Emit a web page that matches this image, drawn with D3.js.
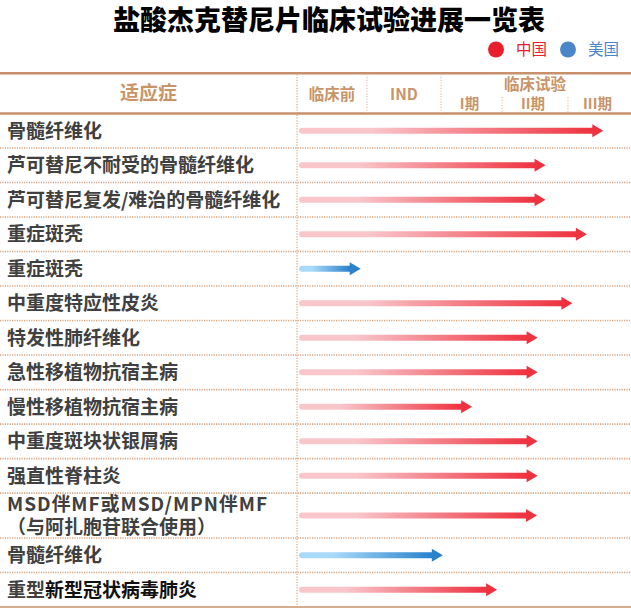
<!DOCTYPE html>
<html><head><meta charset="utf-8">
<script src="https://cdn.jsdelivr.net/npm/d3@7"></script>
<style>
html,body{margin:0;padding:0;background:#fff;}
svg{display:block;font-family:"Noto Sans CJK SC","Noto Sans",sans-serif;}
</style></head>
<body>
<svg id="chart" width="631" height="613"></svg>
<script>
// ---- data ----
const title = "盐酸杰克替尼片临床试验进展一览表";
const legendRegions = ["中国", "美国"];
const indications = [
  "骨髓纤维化",
  "芦可替尼不耐受的骨髓纤维化",
  "芦可替尼复发/难治的骨髓纤维化",
  "重症斑秃",
  "重症斑秃",
  "中重度特应性皮炎",
  "特发性肺纤维化",
  "急性移植物抗宿主病",
  "慢性移植物抗宿主病",
  "中重度斑块状银屑病",
  "强直性脊柱炎",
  "MSD伴MF或MSD/MPN伴MF\n（与阿扎胞苷联合使用）",
  "骨髓纤维化",
  "重型新型冠状病毒肺炎"
];
const regionOfRow = ["中国","中国","中国","中国","美国","中国","中国","中国","中国","中国","中国","中国","美国","中国"];
// progress in phase units: 0 = start, 1 = end of 临床前, 2 = end of IND, 3 = end of I期, 4 = end of II期, 5 = end of III期
const progress = [4.56, 3.66, 3.66, 4.30, 0.91, 4.07, 3.54, 3.54, 2.51, 3.54, 3.54, 3.53, 2.03, 2.92];
const phaseLabels = ["临床前", "IND", "I期", "II期", "III期"];
const trialGroupLabel = "临床试验";
const indicationHeader = "适应症";

// ---- styles ----
const W = 631, H = 613;
const tan = "#c8906a", tanText = "#c89468", dotCol = "#d8a47e";
const regionColor = {"中国": "#e8202e", "美国": "#4a86c8"};
const gradStops = {"中国": ["#f9c6cb", "#ee3340"], "美国": ["#a9dafa", "#2a82cc"]};

const svg = d3.select("#chart");
const defs = svg.append("defs");

// title
svg.append("text").attr("x", 329).attr("y", 20).attr("dy", "0.36em").attr("text-anchor", "middle")
  .attr("font-size", 27).attr("font-weight", 900).attr("fill", "#000").text(title);

// legend
const legendX = d3.scalePoint().domain(legendRegions).range([496, 568]);
const lg = svg.append("g").selectAll("g").data(legendRegions).join("g")
  .attr("transform", d => `translate(${legendX(d)},49.5)`);
lg.append("circle").attr("r", 8).attr("fill", d => regionColor[d]);
lg.append("text").attr("x", 20).attr("dy", "0.36em").attr("font-size", 15.5)
  .attr("fill", d => regionColor[d]).text(d => d);

// layout
const headTop = 73.3, headBot = 113.5, bodyBot = 607;
const x = d3.scaleLinear().domain([0, 1, 2, 3, 4, 5]).range([297, 367, 441, 502, 568, 631]);
const weights = indications.map(s => s.includes("\n") ? 1.3 : 1);
const cum = [0]; weights.forEach(w => cum.push(cum[cum.length - 1] + w));
const yU = d3.scaleLinear().domain([0, cum[cum.length - 1]]).range([headBot, bodyBot]);
const rows = indications.map((label, i) => ({
  label, region: regionOfRow[i], value: progress[i],
  y0: yU(cum[i]), y1: yU(cum[i + 1]), cy: (yU(cum[i]) + yU(cum[i + 1])) / 2, i
}));

// header lines
svg.append("line").attr("x1", 0).attr("x2", W).attr("y1", headTop).attr("y2", headTop)
  .attr("stroke", tan).attr("stroke-width", 2.4);
svg.append("line").attr("x1", 0).attr("x2", W).attr("y1", headBot).attr("y2", headBot)
  .attr("stroke", tan).attr("stroke-width", 2.4);
svg.append("line").attr("x1", 0).attr("x2", W).attr("y1", bodyBot).attr("y2", bodyBot)
  .attr("stroke", tan).attr("stroke-width", 1.5);

// row separators
svg.append("g").selectAll("line").data(rows.slice(0, -1)).join("line")
  .attr("x1", 0).attr("x2", W).attr("y1", d => d.y1).attr("y2", d => d.y1)
  .attr("stroke", dotCol).attr("stroke-width", 1.6).attr("stroke-dasharray", "1.2,1.2");

// vertical separators
svg.append("line").attr("x1", x(0)).attr("x2", x(0)).attr("y1", headTop + 1).attr("y2", bodyBot)
  .attr("stroke", dotCol).attr("stroke-width", 1.2).attr("stroke-dasharray", "1.2,1.5");
svg.append("g").selectAll("line").data([1, 2]).join("line")
  .attr("x1", d => x(d)).attr("x2", d => x(d)).attr("y1", headTop + 1).attr("y2", headBot - 1)
  .attr("stroke", "#e2c2aa").attr("stroke-width", 1.2).attr("stroke-dasharray", "1.2,1.5");
svg.append("g").selectAll("line").data([3, 4]).join("line")
  .attr("x1", d => x(d)).attr("x2", d => x(d)).attr("y1", 97).attr("y2", headBot - 1)
  .attr("stroke", "#e2c2aa").attr("stroke-width", 1.2).attr("stroke-dasharray", "1.2,1.5");

// header labels
const hdr = svg.append("g").attr("fill", tanText).attr("font-weight", 700).attr("text-anchor", "middle");
hdr.append("text").attr("x", 148.5).attr("y", 93).attr("dy", "0.36em").attr("font-size", 19).text(indicationHeader);
hdr.selectAll("text.ph").data(phaseLabels).join("text").attr("class", "ph")
  .attr("x", (d, i) => (x(i) + x(i + 1)) / 2 + (i >= 2 ? -2 : 0))
  .attr("y", (d, i) => i < 2 ? 94 : 104).attr("dy", "0.36em")
  .attr("font-size", (d, i) => i < 2 ? 15.5 : 14.5).text(d => d);
hdr.append("text").attr("x", (x(2) + x(5)) / 2 - 1).attr("y", 84).attr("dy", "0.36em")
  .attr("font-size", 15.5).text(trialGroupLabel);

// row labels
const lab = svg.append("g").attr("font-weight", 700).attr("font-size", 19).attr("fill", "#404040");
rows.forEach(r => {
  const lines = r.label.split("\n");
  const t = lab.append("text").attr("x", 7);
  lines.forEach((ln, k) => {
    const ty = r.cy + (k - (lines.length - 1) / 2) * 23;
    if (r.i === rows.length - 1) {
      t.attr("y", ty).attr("dy", "0.36em");
      t.append("tspan").text(ln.slice(0, 2));
      t.append("tspan").attr("fill", "#111").text(ln.slice(2));
    } else {
      const ts = t.append("tspan").attr("x", 7).attr("y", ty).attr("dy", "0.36em").text(ln);
      if (/^[A-Za-z]/.test(ln)) ts.attr("textLength", 260).attr("lengthAdjust", "spacing");
    }
  });
});

// arrows
const x0 = x(0) + 2;
rows.forEach(r => {
  const tip = x(r.value), y = r.cy, hl = 11, hh = 6.5, sw = 3;
  const gid = "g" + r.i;
  const g = defs.append("linearGradient").attr("id", gid).attr("gradientUnits", "userSpaceOnUse")
    .attr("x1", x0).attr("x2", tip - hl).attr("y1", 0).attr("y2", 0);
  g.append("stop").attr("offset", "0%").attr("stop-color", gradStops[r.region][0]);
  g.append("stop").attr("offset", "25%").attr("stop-color", gradStops[r.region][0]);
  g.append("stop").attr("offset", "100%").attr("stop-color", gradStops[r.region][1]);
  const p = d3.path();
  p.moveTo(x0 + sw, y - sw);
  p.lineTo(tip - hl, y - sw);
  p.lineTo(tip - hl, y - hh);
  p.lineTo(tip, y);
  p.lineTo(tip - hl, y + hh);
  p.lineTo(tip - hl, y + sw);
  p.lineTo(x0 + sw, y + sw);
  p.arc(x0 + sw, y, sw, Math.PI / 2, 3 * Math.PI / 2);
  p.closePath();
  svg.append("path").attr("d", p.toString()).attr("fill", `url(#${gid})`);
});
</script>
</body></html>
